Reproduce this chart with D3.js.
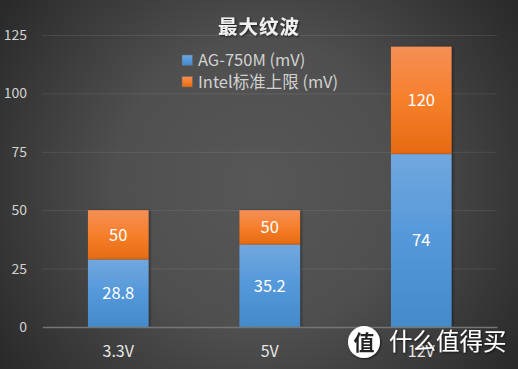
<!DOCTYPE html>
<html>
<head>
<meta charset="utf-8">
<script src="https://cdn.jsdelivr.net/npm/d3@7"></script>
<style>
  html, body { margin: 0; padding: 0; background: #333; }
  svg { display: block; }
  text { font-family: "Noto Sans CJK SC", "Noto Sans", sans-serif; }
</style>
</head>
<body>
<div id="chart"></div>
<script>
const categories = ['3.3V', '5V', '12V'];
const limitValues = [50, 50, 120];
const agValues = [28.8, 35.2, 74];
const yTicks = [0, 25, 50, 75, 100, 125];
const seriesNames = ['AG-750M (mV)', 'Intel标准上限 (mV)'];

const width = 518;
const height = 369;

const svg = d3.select('#chart')
  .append('svg')
  .attr('width', width)
  .attr('height', height);

const defs = svg.append('defs');

const bg = defs.append('radialGradient')
  .attr('id', 'bg')
  .attr('gradientUnits', 'userSpaceOnUse')
  .attr('cx', 259).attr('cy', 185).attr('r', 320);
bg.append('stop').attr('offset', '0%').attr('stop-color', '#575757');
bg.append('stop').attr('offset', '45%').attr('stop-color', '#4f4f4f');
bg.append('stop').attr('offset', '100%').attr('stop-color', '#282828');

function barGradient(id, top, mid, bottom) {
  const g = defs.append('linearGradient')
    .attr('id', id)
    .attr('x1', 0).attr('y1', 0).attr('x2', 0).attr('y2', 1);
  g.append('stop').attr('offset', '0%').attr('stop-color', top);
  g.append('stop').attr('offset', '50%').attr('stop-color', mid);
  g.append('stop').attr('offset', '100%').attr('stop-color', bottom);
}
barGradient('blue', '#71a7dd', '#5498da', '#448ac9');
barGradient('orange', '#f58f56', '#f67f2b', '#e56a12');

const shadow = defs.append('filter').attr('id', 'barShadow')
  .attr('x', '-10%').attr('width', '125%');
shadow.append('feDropShadow')
  .attr('dx', 1.5).attr('dy', 0).attr('stdDeviation', 1)
  .attr('flood-color', '#000').attr('flood-opacity', 0.4);

const textShadow = defs.append('filter').attr('id', 'textShadow');
textShadow.append('feDropShadow')
  .attr('dx', 1).attr('dy', 1).attr('stdDeviation', 0.8)
  .attr('flood-color', '#000').attr('flood-opacity', 0.7);

svg.append('rect')
  .attr('width', width)
  .attr('height', height)
  .attr('fill', 'url(#bg)');

const x = d3.scaleBand()
  .domain(categories)
  .range([42.5, 497])
  .paddingInner(0.6)
  .paddingOuter(0.3);

const y = d3.scaleLinear()
  .domain([0, 125])
  .range([327, 35]);

// gridlines
const yAxis = svg.append('g')
  .attr('transform', 'translate(42, 0)')
  .call(d3.axisLeft(y).tickValues(yTicks).tickSize(-455).tickPadding(15));
yAxis.select('.domain').remove();
yAxis.selectAll('line')
  .attr('stroke', '#fff')
  .attr('stroke-opacity', 0.09);
yAxis.selectAll('text')
  .attr('fill', '#d2d2d2')
  .style('font-size', '14px');

// the two series overlap, the blue one sits in front
const rows = categories.map((c, i) => ({ c, limit: limitValues[i], ag: agValues[i] }));

svg.selectAll('.limit')
  .data(rows)
  .enter()
  .append('rect')
  .attr('class', 'limit')
  .attr('x', d => x(d.c))
  .attr('y', d => y(d.limit))
  .attr('width', x.bandwidth())
  .attr('height', d => y(d.ag) - y(d.limit))
  .attr('fill', 'url(#orange)')
  .attr('filter', 'url(#barShadow)');

svg.selectAll('.ag')
  .data(rows)
  .enter()
  .append('rect')
  .attr('class', 'ag')
  .attr('x', d => x(d.c))
  .attr('y', d => y(d.ag))
  .attr('width', x.bandwidth())
  .attr('height', d => y(0) - y(d.ag))
  .attr('fill', 'url(#blue)')
  .attr('filter', 'url(#barShadow)');

// baseline
const xAxis = svg.append('g')
  .attr('transform', `translate(0, ${y(0)})`)
  .call(d3.axisBottom(x).tickSize(0).tickPadding(19));
xAxis.select('.domain')
  .attr('stroke', '#757575')
  .attr('stroke-width', 1.6);
xAxis.selectAll('text')
  .attr('fill', '#e6e6e6')
  .style('font-size', '16px');

// value labels
svg.selectAll('.limit-label')
  .data(rows)
  .enter()
  .append('text')
  .attr('class', 'limit-label')
  .attr('x', d => x(d.c) + x.bandwidth() / 2)
  .attr('y', d => (y(d.limit) + y(d.ag)) / 2)
  .attr('dy', '0.35em')
  .attr('text-anchor', 'middle')
  .attr('fill', '#fff')
  .style('font-size', '16.5px')
  .text(d => d.limit);

svg.selectAll('.ag-label')
  .data(rows)
  .enter()
  .append('text')
  .attr('class', 'ag-label')
  .attr('x', d => x(d.c) + x.bandwidth() / 2)
  .attr('y', d => (y(0) + y(d.ag)) / 2)
  .attr('dy', '0.35em')
  .attr('text-anchor', 'middle')
  .attr('fill', '#fff')
  .style('font-size', '16.5px')
  .text(d => d.ag);

// title
svg.append('text')
  .attr('x', 259)
  .attr('y', 27)
  .attr('dy', '0.36em')
  .attr('text-anchor', 'middle')
  .attr('fill', '#f0f0f0')
  .attr('filter', 'url(#textShadow)')
  .style('font-size', '19.5px')
  .style('font-weight', 700)
  .style('letter-spacing', '1px')
  .text('最大纹波');

// legend
const legend = svg.selectAll('.legend')
  .data(seriesNames)
  .enter()
  .append('g')
  .attr('class', 'legend')
  .attr('transform', (d, i) => `translate(182, ${55 + i * 21.5})`);
legend.append('rect')
  .attr('width', 10.5)
  .attr('height', 10.5)
  .attr('fill', (d, i) => i === 0 ? 'url(#blue)' : 'url(#orange)')
  .attr('stroke', '#666')
  .attr('stroke-width', 0.5);
legend.append('text')
  .attr('x', 16)
  .attr('y', 5.5)
  .attr('dy', '0.35em')
  .attr('fill', '#d2d2d2')
  .style('font-size', '16.5px')
  .text(d => d);

// watermark
const mark = svg.append('g').attr('filter', 'url(#textShadow)');
mark.append('circle')
  .attr('cx', 364)
  .attr('cy', 342)
  .attr('r', 16)
  .attr('fill', '#fff');
mark.append('text')
  .attr('x', 364)
  .attr('y', 342)
  .attr('dy', '0.36em')
  .attr('text-anchor', 'middle')
  .attr('fill', '#222')
  .style('font-size', '21px')
  .style('font-weight', 700)
  .text('值');
mark.append('text')
  .attr('x', 389)
  .attr('y', 342)
  .attr('dy', '0.36em')
  .attr('fill', '#fff')
  .style('font-size', '23.5px')
  .text('什么值得买');
</script>
</body>
</html>
